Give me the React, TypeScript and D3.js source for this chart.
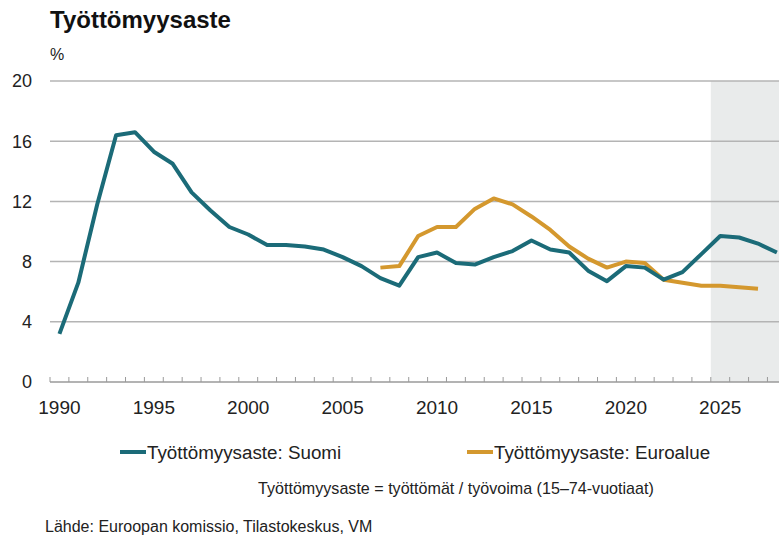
import React, { useRef, useEffect } from 'react';
import * as d3 from 'd3';

// Years on the category axis
const years = [
  1990, 1991, 1992, 1993, 1994, 1995, 1996, 1997, 1998, 1999,
  2000, 2001, 2002, 2003, 2004, 2005, 2006, 2007, 2008, 2009,
  2010, 2011, 2012, 2013, 2014, 2015, 2016, 2017, 2018, 2019,
  2020, 2021, 2022, 2023, 2024, 2025, 2026, 2027, 2028,
];

// Työttömyysaste: Suomi, %
const suomi = [
  3.2, 6.6, 11.8, 16.4, 16.6, 15.3, 14.5, 12.6, 11.4, 10.3,
  9.8, 9.1, 9.1, 9.0, 8.8, 8.3, 7.7, 6.9, 6.4, 8.3,
  8.6, 7.9, 7.8, 8.3, 8.7, 9.4, 8.8, 8.6, 7.4, 6.7,
  7.7, 7.6, 6.8, 7.3, 8.5, 9.7, 9.6, 9.2, 8.6,
];

// Työttömyysaste: Euroalue, % (from 2007 to 2027)
const euroYears = [
  2007, 2008, 2009, 2010, 2011, 2012, 2013, 2014, 2015, 2016,
  2017, 2018, 2019, 2020, 2021, 2022, 2023, 2024, 2025, 2026, 2027,
];
const euro = [
  7.6, 7.7, 9.7, 10.3, 10.3, 11.5, 12.2, 11.8, 11.0, 10.1,
  9.0, 8.2, 7.6, 8.0, 7.9, 6.8, 6.6, 6.4, 6.4, 6.3, 6.2,
];

const yTicks = [0, 4, 8, 12, 16, 20];
const xLabels = [1990, 1995, 2000, 2005, 2010, 2015, 2020, 2025];
const forecastStart = 2025;

const TEAL = '#1b6b78';
const GOLD = '#d4982e';
const FONT = '"Liberation Sans", Arial, sans-serif';

const App = () => {
  const svgRef = useRef(null);

  useEffect(() => {
    document.body.style.margin = '0';

    const width = 779;
    const height = 535;
    const left = 50;

    const svg = d3.select(svgRef.current);
    svg.selectAll('*').remove();
    svg.attr('width', width).attr('height', height);

    // Scales
    const x = d3.scaleBand().domain(years.map(String)).range([left, left + years.length * 18.88]);
    const y = d3.scaleLinear().domain([0, 20]).range([382, 81]);
    const cx = (yr) => x(String(yr)) + x.bandwidth() / 2;
    const right = x.range()[1];

    // Forecast shading
    svg.append('rect')
      .attr('x', x(String(forecastStart)))
      .attr('y', y(20))
      .attr('width', right - x(String(forecastStart)))
      .attr('height', y(0) - y(20))
      .attr('fill', '#e9ebeb');

    // Gridlines
    svg.append('g')
      .selectAll('line')
      .data(yTicks.filter(d => d > 0))
      .join('line')
      .attr('x1', left)
      .attr('x2', right)
      .attr('y1', d => y(d))
      .attr('y2', d => y(d))
      .attr('stroke', '#b4b4b4')
      .attr('stroke-width', 1.5);

    // Y labels
    svg.append('g')
      .selectAll('text')
      .data(yTicks)
      .join('text')
      .attr('x', 32)
      .attr('y', d => y(d))
      .attr('dy', '0.35em')
      .attr('text-anchor', 'end')
      .attr('font-family', FONT)
      .attr('font-size', 18)
      .attr('fill', '#222')
      .text(d => d);

    // X axis line + ticks at band edges
    svg.append('line')
      .attr('x1', left)
      .attr('x2', right)
      .attr('y1', y(0))
      .attr('y2', y(0))
      .attr('stroke', '#9a9a9a')
      .attr('stroke-width', 1.5);

    svg.append('g')
      .selectAll('line')
      .data(years)
      .join('line')
      .attr('x1', d => x(String(d)))
      .attr('x2', d => x(String(d)))
      .attr('y1', y(0))
      .attr('y2', y(0) - 5)
      .attr('stroke', '#9a9a9a')
      .attr('stroke-width', 1);

    svg.append('g')
      .selectAll('text')
      .data(xLabels)
      .join('text')
      .attr('x', d => cx(d))
      .attr('y', 414)
      .attr('text-anchor', 'middle')
      .attr('font-family', FONT)
      .attr('font-size', 19)
      .attr('fill', '#222')
      .text(d => d);

    // Lines
    const line = d3.line()
      .x(d => cx(d[0]))
      .y(d => y(d[1]));

    svg.append('path')
      .datum(euroYears.map((yr, i) => [yr, euro[i]]))
      .attr('fill', 'none')
      .attr('stroke', GOLD)
      .attr('stroke-width', 4)
      .attr('stroke-linejoin', 'round')
      .attr('d', line);

    svg.append('path')
      .datum(years.map((yr, i) => [yr, suomi[i]]))
      .attr('fill', 'none')
      .attr('stroke', TEAL)
      .attr('stroke-width', 4)
      .attr('stroke-linejoin', 'round')
      .attr('d', line);

    // Title and unit
    svg.append('text')
      .attr('x', 50)
      .attr('y', 28)
      .attr('font-family', FONT)
      .attr('font-size', 24)
      .attr('font-weight', 'bold')
      .attr('fill', '#111')
      .text('Työttömyysaste');

    svg.append('text')
      .attr('x', 50)
      .attr('y', 60)
      .attr('font-family', FONT)
      .attr('font-size', 16)
      .attr('fill', '#222')
      .text('%');

    // Legend
    const legend = [
      { label: 'Työttömyysaste: Suomi', color: TEAL, x: 120 },
      { label: 'Työttömyysaste: Euroalue', color: GOLD, x: 467 },
    ];
    const lg = svg.append('g')
      .selectAll('g')
      .data(legend)
      .join('g')
      .attr('transform', d => `translate(${d.x},452)`);
    lg.append('line')
      .attr('x1', 0)
      .attr('x2', 26)
      .attr('stroke', d => d.color)
      .attr('stroke-width', 4);
    lg.append('text')
      .attr('x', 27)
      .attr('dy', '0.35em')
      .attr('font-family', FONT)
      .attr('font-size', 18.8)
      .attr('fill', '#222')
      .text(d => d.label);

    // Notes
    svg.append('text')
      .attr('x', 258)
      .attr('y', 494)
      .attr('font-family', FONT)
      .attr('font-size', 16.1)
      .attr('fill', '#222')
      .text('Työttömyysaste = työttömät / työvoima (15–74-vuotiaat)');

    svg.append('text')
      .attr('x', 45)
      .attr('y', 532)
      .attr('font-family', FONT)
      .attr('font-size', 16)
      .attr('fill', '#222')
      .text('Lähde: Euroopan komissio, Tilastokeskus, VM');
  }, []);

  return <svg ref={svgRef} style={{ display: 'block' }}></svg>;
};

export default App;
